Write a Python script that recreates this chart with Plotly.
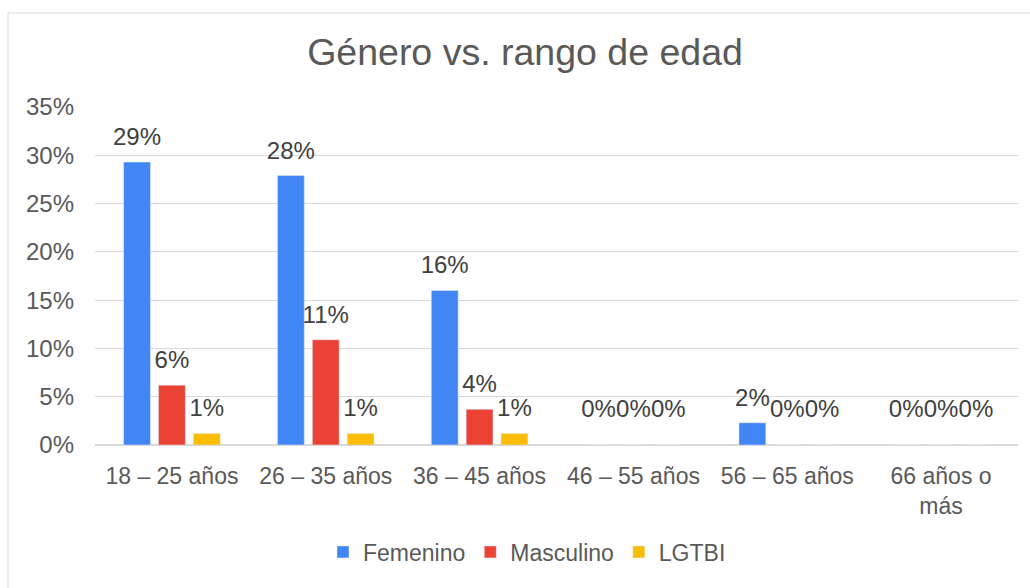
import plotly.graph_objects as go

categories = ["18 – 25 años", "26 – 35 años", "36 – 45 años", "46 – 55 años", "56 – 65 años", "66 años o<br>más"]
femenino = [0.293, 0.279, 0.160, 0.0, 0.023, 0.0]
masculino = [0.062, 0.109, 0.037, 0.0, 0.0, 0.0]
lgtbi = [0.012, 0.012, 0.012, 0.0, 0.0, 0.0]
series = [("Femenino", femenino, "#4285F4"), ("Masculino", masculino, "#EA4335"), ("LGTBI", lgtbi, "#FBBC04")]
yticks = [0, 0.05, 0.10, 0.15, 0.20, 0.25, 0.30, 0.35]

FONT = "Liberation Sans, Arial, sans-serif"
W, H = 1030, 588
L, R, T, B = 95, 12, 107, 143

fig = go.Figure()
for name, vals, col in series:
    fig.add_trace(go.Bar(name=name, x=categories, y=vals, marker_color=col,
                         offsetgroup=name, hoverinfo="skip"))
for name, vals, col in series:
    fig.add_trace(go.Scatter(x=categories, y=vals, mode="markers+text", offsetgroup=name,
                             text=[f"{v*100:.0f}%" for v in vals], textposition="top center",
                             textfont=dict(size=24, color="#404040", family=FONT),
                             marker=dict(size=[16 if v > 0 else 34 for v in vals], opacity=0),
                             showlegend=False, hoverinfo="skip", cliponaxis=False))

pw = W - L - R
ph = H - T - B
fig.update_layout(
    width=W, height=H,
    margin=dict(l=L, r=R, t=T, b=B),
    paper_bgcolor="white", plot_bgcolor="white",
    barmode="group", scattermode="group",
    bargap=0.32, bargroupgap=0.23, scattergap=0.32,
    font=dict(family=FONT, color="#595959", size=22),
    title=dict(text="Género vs. rango de edad", x=525 / W, xanchor="center", xref="container",
               y=1 - 52 / H, yanchor="middle", yref="container",
               font=dict(size=37.5, color="#595959", family=FONT)),
    showlegend=True,
    legend=dict(orientation="h", x=(527 - L) / pw, xanchor="center",
                y=-(552 - (T + ph)) / ph, yanchor="middle",
                font=dict(size=23, color="#595959", family=FONT),
                itemwidth=30, tracegroupgap=0),
    shapes=[dict(type="rect", xref="paper", yref="paper",
                 x0=(8 - L) / pw, x1=(1040 - L) / pw,
                 y0=-(600 - (T + ph)) / ph, y1=((T + ph) - 13) / ph,
                 line=dict(color="#d9d9d9", width=1), fillcolor="rgba(0,0,0,0)", layer="below")],
)
fig.update_yaxes(range=[0, 0.35], tickvals=yticks, tickformat=".0%", showgrid=True,
                 gridcolor="#d9d9d9", gridwidth=1, zeroline=True, zerolinecolor="#d9d9d9",
                 zerolinewidth=2, showline=False, ticks="", ticklabelstandoff=20,
                 tickfont=dict(size=24, color="#595959", family=FONT))
fig.update_xaxes(showline=False, ticks="", ticklabelstandoff=15,
                 tickfont=dict(size=23, color="#595959", family=FONT))

fig.write_html("out.html", config={"displayModeBar": False},
               post_script="document.body.style.margin='0';")
